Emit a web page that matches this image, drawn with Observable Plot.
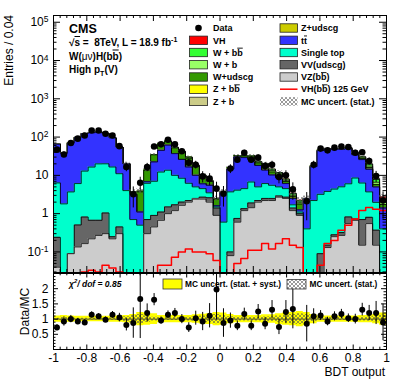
<!DOCTYPE html>
<html>
<head>
<meta charset="utf-8">
<script src="https://cdn.jsdelivr.net/npm/d3@7"></script>
<script src="https://cdn.jsdelivr.net/npm/@observablehq/plot@0.6"></script>
<style>
  html, body { margin: 0; padding: 0; background: #fff; }
  #chart { position: relative; width: 407px; height: 391px; overflow: hidden; }
  #chart svg { position: absolute; left: 0; }
</style>
</head>
<body>
<div id="chart"></div>
<script>
// ---------------- data ----------------
const xMin = -1, xMax = 1, nBins = 48;

const data = [47, 35, 70, 91, 110, 148, 148, 122, 110, 58, 16.5, 3.2,
  6.4, 16.5, 57, 64.5, 85, 64.5, 42.6, 21.5, 19, 9.4, 8.2, 4.5,
  3.3, 15, 25.6, 39, 25.6, 29, 17.5, 19, 9, 10, 4.3, 0,
  2.1, 19, 50, 45, 53, 57, 55, 39, 40, 23.6, 9.6, 2.2];

const vzbb = [0.04, 0, 0.09, 0.135, 0.165, 0.22, 0.27, 0.3, 0.22, 0.3, 0, 0,
  0, 0.3, 0.45, 0.67, 1.0, 1.2, 1.65, 2.0, 2.4, 2.4, 2.0, 0.9,
  0, 0.08, 0.6, 1.2, 1.43, 2.0, 2.2, 2.2, 2.7, 2.5, 1.2, 0.9,
  0, 0, 0, 0.13, 0.25, 0.27, 0.55, 0.67, 0.15, 0.55, 0.15, 0];
const vvudscg = [0.2, 0, 0, 0.37, 0.65, 0.45, 0.4, 0.74, 0.03, 0.15, 0, 0,
  0, 0.4, 0.45, 0.43, 0.5, 0.5, 0.35, 0.2, 0.1, 0.3, 0.6, 0.5,
  0, 0.02, 0.15, 0.15, 0.47, 0.2, 0.3, 0.3, 0.2, 0.2, 0.2, 0.1,
  0, 0, 0.09, 0.02, 0.03, 0.05, 0.27, 0.05, 0.55, 0.25, 0.22, 0];
const singleTop = [6.1, 1.8, 3.6, 5.6, 12.1, 15.8, 19.3, 19.0, 16.3, 10.6, 4.0, 0.7,
  0.5, 5.5, 6.1, 11.1, 12.1, 8.3, 6.4, 4.0, 2.5, 1.8, 0.9, 0.1,
  0.6, 3.6, 3.35, 3.15, 4.8, 2.8, 3.6, 3.0, 2.1, 1.8, 0.3, 0.1,
  0.4, 2.2, 3.1, 3.65, 4.1, 4.7, 5.2, 7.8, 5.6, 2.9, 1.6, 0.4];
const ttbar = [58.6, 35.7, 65.8, 91.8, 110.9, 113.3, 115.8, 103.6, 79.2, 43.6, 15.8, 2.5,
  0.6, 0.6, 15.4, 32.8, 48, 27, 17.6, 10.3, 5, 1.5, 2.0, 0.1,
  3.0, 10.9, 26.3, 24.6, 18.7, 13.1, 7.6, 4.7, 3.6, 1.6, 0.8, 0.15,
  2.0, 14.9, 41.3, 44.6, 43.8, 43, 44, 26, 19.5, 10.7, 3.0, 1.0];
const zudscg = [0, 0, 0, 0, 0.02, 0.02, 0.02, 0.02, 0.02, 0.02, 0, 0,
  0.02, 0.05, 0.05, 0.05, 0.05, 0.05, 0.05, 0.05, 0.05, 0.03, 0.02, 0.01,
  0, 0.02, 0.03, 0.03, 0.03, 0.03, 0.03, 0.02, 0.02, 0.02, 0.01, 0.01,
  0, 0.01, 0.02, 0.02, 0.02, 0.02, 0.02, 0.02, 0.02, 0.02, 0.01, 0.01];
const zb = [0, 0, 0, 0, 0, 0, 0, 0, 0, 0, 0, 0,
  0, 0.01, 0.02, 0.02, 0.02, 0.02, 0.02, 0.02, 0.02, 0.01, 0.01, 0,
  0, 0.01, 0.01, 0.01, 0.02, 0.02, 0.02, 0.02, 0.02, 0.01, 0.01, 0.01,
  0, 0, 0.01, 0.01, 0.01, 0.01, 0.01, 0.01, 0.02, 0.02, 0.01, 0.01];
const zbb = [0, 0, 0, 0, 0, 0, 0, 0, 0, 0, 0, 0,
  0, 0.01, 0.01, 0.01, 0.01, 0.01, 0.01, 0.02, 0.02, 0.01, 0.01, 0,
  0, 0, 0.01, 0.01, 0.02, 0.02, 0.02, 0.02, 0.02, 0.02, 0.01, 0.01,
  0, 0, 0.01, 0.01, 0.01, 0.01, 0.02, 0.02, 0.03, 0.03, 0.02, 0.01];
const wudscg = [0.1, 0.05, 0.1, 0.1, 0.2, 0.2, 0.2, 0.3, 0.3, 0.4, 0.6, 0.5,
  2.6, 6.7, 12, 21.5, 16, 15, 14, 11.5, 7, 3.4, 1.4, 0.8,
  0.2, 1.0, 2.0, 3.0, 5, 3, 4, 2, 1.6, 0.8, 0.3, 0.5,
  0.1, 0.3, 0.5, 0.6, 0.8, 1.0, 2.0, 2.0, 1.5, 1.5, 0.8, 0.3];
const wb = [0, 0, 0, 0, 0, 0, 0, 0, 0, 0, 0.05, 0.05,
  0.1, 0.2, 0.4, 1.0, 1.0, 1.3, 1.5, 1.2, 0.8, 0.4, 0.25, 0.05,
  0, 0.1, 0.3, 0.5, 1.5, 1.0, 1.5, 1.2, 0.8, 0.5, 0.2, 0.15,
  0, 0.05, 0.1, 0.1, 0.15, 0.2, 0.6, 1.2, 1.5, 1.5, 0.8, 0.3];
const wbb = [0, 0, 0, 0, 0, 0, 0, 0, 0, 0, 0.02, 0.02,
  0.05, 0.1, 0.2, 0.5, 0.4, 0.7, 1.0, 0.8, 0.6, 0.3, 0.2, 0.03,
  0, 0.05, 0.2, 0.3, 1.0, 0.8, 1.2, 1.0, 0.8, 0.5, 0.3, 0.2,
  0, 0.05, 0.1, 0.1, 0.15, 0.2, 0.4, 1.2, 1.5, 2.0, 1.2, 0.4];
const vhStack = [0, 0, 0, 0, 0, 0, 0, 0, 0, 0, 0, 0,
  0, 0, 0, 0.01, 0.01, 0.01, 0.02, 0.02, 0.02, 0.02, 0.02, 0.01,
  0, 0, 0.01, 0.01, 0.02, 0.02, 0.03, 0.03, 0.05, 0.06, 0.08, 0.1,
  0, 0, 0.01, 0.03, 0.04, 0.07, 0.1, 0.15, 0.4, 0.5, 0.5, 0.3];
const vhLine = [0, 0, 0, 0, 0.03, 0.033, 0.03, 0.045, 0.038, 0.03, 0, 0,
  0, 0, 0, 0.045, 0.045, 0.073, 0.1, 0.12, 0.1, 0.1, 0.09, 0.06,
  0, 0.02, 0.05, 0.067, 0.11, 0.11, 0.165, 0.12, 0.165, 0.22, 0.15, 0.13,
  0, 0.02, 0.045, 0.165, 0.2, 0.37, 0.5, 0.72, 1.2, 1.45, 1.3, 1.2];

const ratio = [0.72, 0.92, 1.0, 0.92, 0.89, 1.14, 1.09, 0.98, 1.14, 1.05, 0.81, 0.87,
  1.66, 1.2, 1.64, 0.95, 1.14, 1.2, 1.0, 0.72, 1.03, 0.92, 1.11, 1.97,
  0.87, 0.95, 0.78, 1.17, 0.78, 1.25, 0.85, 1.31, 0.74, 1.23, 1.33, null,
  0.85, 1.09, 1.12, 0.92, 1.09, 1.17, 1.03, 1.0, 1.31, 1.2, 1.2, 0.89];
const ratioErr = [0.1, 0.15, 0.12, 0.1, 0.09, 0.1, 0.09, 0.09, 0.11, 0.14, 0.2, 0.5,
  1.3, 0.3, 0.2, 0.12, 0.13, 0.15, 0.15, 0.16, 0.23, 0.3, 0.4, 1.0,
  0.47, 0.25, 0.16, 0.19, 0.16, 0.23, 0.2, 0.3, 0.25, 0.38, 0.65, null,
  0.6, 0.25, 0.16, 0.14, 0.15, 0.15, 0.14, 0.16, 0.21, 0.25, 0.38, 0.6];
const bandSyst = [0.1, 0.12, 0.1, 0.09, 0.09, 0.09, 0.09, 0.09, 0.1, 0.1, 0.12, 0.15,
  0.22, 0.2, 0.18, 0.12, 0.12, 0.12, 0.12, 0.12, 0.14, 0.16, 0.18, 0.22,
  0.2, 0.15, 0.12, 0.12, 0.12, 0.12, 0.14, 0.14, 0.18, 0.2, 0.22, 0.25,
  0.22, 0.15, 0.1, 0.1, 0.1, 0.1, 0.1, 0.1, 0.12, 0.12, 0.15, 0.2];
const bandStat = [0.03, 0.06, 0.04, 0.03, 0.03, 0.03, 0.03, 0.03, 0.04, 0.05, 0.08, 0.12,
  0.15, 0.1, 0.06, 0.05, 0.05, 0.05, 0.05, 0.06, 0.08, 0.1, 0.12, 0.15,
  0.12, 0.08, 0.06, 0.06, 0.06, 0.06, 0.07, 0.08, 0.1, 0.12, 0.15, 0.18,
  0.15, 0.08, 0.05, 0.05, 0.05, 0.05, 0.05, 0.05, 0.06, 0.07, 0.09, 0.13];

const xTickValues = [-1, -0.8, -0.6, -0.4, -0.2, 0, 0.2, 0.4, 0.6, 0.8, 1];
const xTickLabels = ["-1", "-0.8", "-0.6", "-0.4", "-0.2", "0", "0.2", "0.4", "0.6", "0.8", "1"];
const yTickValues = [0.1, 1, 10, 100, 1000, 10000, 100000];
const yTickLabels = ["10^-1", "1", "10", "10^2", "10^3", "10^4", "10^5"];
const rTickValues = [0.5, 1, 1.5, 2];
const rTickLabels = ["0.5", "1", "1.5", "2"];

const stackSeries = [vzbb, vvudscg, singleTop, ttbar, zudscg, zb, zbb, wudscg, wb, wbb, vhStack]; // bottom -> top
const stackColors = ["#cccccc", "#666666", "#00ffcc", "#3333ff", "#cccc00", "#cccc88", "#ffff00", "#339900", "#99ff66", "#33ff33", "#ff0000"];

// ---------------- helpers ----------------
const FONT = "'Liberation Sans', Arial, Helvetica, sans-serif";
const FLOOR = 1e-6;
const binEdges = d3.range(nBins + 1).map(i => xMin + (xMax - xMin) * i / nBins);
const binCenters = d3.range(nBins).map(i => (binEdges[i] + binEdges[i + 1]) / 2);
const xMinor = d3.range(0, 51).map(i => -1 + i * 0.04).filter(v => !xTickValues.some(t => Math.abs(t - v) < 1e-6));

function steps(vals) {
  const p = vals.map((v, i) => ({x: binEdges[i], y: Math.max(v, FLOOR)}));
  p.push({x: binEdges[nBins], y: Math.max(vals[nBins - 1], FLOOR)});
  return p;
}
function bandSteps(half) {
  const p = half.map((h, i) => ({x: binEdges[i], lo: 1 - h, hi: 1 + h}));
  p.push({x: binEdges[nBins], lo: 1 - half[nBins - 1], hi: 1 + half[nBins - 1]});
  return p;
}
function addHatch(svg, id) {
  const defs = d3.select(svg).insert("defs", ":first-child");
  const p = defs.append("pattern").attr("id", id).attr("patternUnits", "userSpaceOnUse")
    .attr("width", 4).attr("height", 4);
  p.append("path").attr("d", "M0,0L4,4M4,0L0,4").attr("stroke", "#555").attr("stroke-width", 0.6).attr("fill", "none");
}
function richText(parent, x, y, str, sizePx, opts = {}) {
  const t = parent.append("text").attr("x", x).attr("y", y).attr("font-size", sizePx + "px")
    .attr("font-family", FONT).attr("font-weight", opts.weight || "bold").attr("fill", "#000")
    .attr("text-anchor", opts.anchor || "start");
  if (opts.italic) t.attr("font-style", "italic");
  if (opts.transform) t.attr("transform", opts.transform);
  const tokens = str.split(/(#bar\{[^}]*\}|\^\{[^}]*\}|_\{[^}]*\}|#n\{[^}]*\})/).filter(s => s !== "");
  let shift = 0;
  for (const tk of tokens) {
    let txt = tk, ns = 0, m;
    const ts = t.append("tspan");
    if ((m = tk.match(/^#bar\{(.*)\}$/))) { txt = m[1]; ts.style("text-decoration", "overline"); }
    else if ((m = tk.match(/^\^\{(.*)\}$/))) { txt = m[1]; ns = -0.42 * sizePx; ts.attr("font-size", (0.7 * sizePx) + "px"); }
    else if ((m = tk.match(/^_\{(.*)\}$/))) { txt = m[1]; ns = 0.3 * sizePx; ts.attr("font-size", (0.7 * sizePx) + "px"); }
    else if ((m = tk.match(/^#n\{(.*)\}$/))) { txt = m[1]; ts.attr("font-weight", "normal"); }
    ts.text(txt);
    if (ns !== shift) { ts.attr("dy", ns - shift); shift = ns; }
  }
  return t;
}

// ---------------- main panel ----------------
let run = new Array(nBins).fill(0);
const cum = stackSeries.map(s => { run = run.map((r, i) => r + s[i]); return run.slice(); });
const mcTotal = cum[cum.length - 1];

const stackMarks = [];
for (let k = cum.length - 1; k >= 0; k--) {
  const pts = steps(cum[k]);
  stackMarks.push(Plot.areaY(pts, {x: "x", y1: FLOOR, y2: "y", curve: "step-after", fill: stackColors[k], clip: true}));
  stackMarks.push(Plot.lineY(pts, {x: "x", y: "y", curve: "step-after", stroke: "#000", strokeWidth: 0.8, clip: true}));
}

const dataPts = d3.range(nBins).filter(i => data[i] > 0)
  .map(i => ({x: binCenters[i], y: data[i], lo: data[i] - Math.sqrt(data[i]), hi: data[i] + Math.sqrt(data[i])}));

const yMinor = [];
for (let e = -2; e <= 5; e++) for (let m = 2; m <= 9; m++) { const v = m * Math.pow(10, e); if (v > 0.029 && v < 1.5e5) yMinor.push(v); }

const mainPlotH = 257, mainPlotW = 333;
const yLabelMap = new Map(yTickValues.map((v, i) => [v, yTickLabels[i]]));

const main = Plot.plot({
  width: 407, height: 273,
  marginTop: 15, marginBottom: 1, marginLeft: 53, marginRight: 21,
  x: {domain: [xMin, xMax], axis: null},
  y: {type: "log", domain: [0.029, 1.5e5], axis: null},
  style: {fontFamily: FONT, fontSize: "12px", background: "transparent", color: "#000"},
  marks: [
    ...stackMarks,
    Plot.rect(d3.range(nBins).filter(i => mcTotal[i] > 0), {
      x1: i => binEdges[i], x2: i => binEdges[i + 1],
      y1: i => mcTotal[i] * (1 - bandStat[i]), y2: i => mcTotal[i] * (1 + bandStat[i]),
      fill: "url(#hatchMain)", clip: true
    }),
    Plot.lineY(steps(vhLine), {x: "x", y: "y", curve: "step-after", stroke: "#ff0000", strokeWidth: 1.5, clip: true}),
    Plot.ruleX(dataPts, {x: "x", y1: "lo", y2: "hi", stroke: "#000", strokeWidth: 1, clip: true}),
    Plot.dot(dataPts, {x: "x", y: "y", r: 3.3, fill: "#000", stroke: null}),
    // ticks
    Plot.ruleX(xTickValues, {insetTop: mainPlotH - 6, stroke: "#000"}),
    Plot.ruleX(xTickValues, {insetBottom: mainPlotH - 6, stroke: "#000"}),
    Plot.ruleX(xMinor, {insetTop: mainPlotH - 3, stroke: "#000"}),
    Plot.ruleX(xMinor, {insetBottom: mainPlotH - 3, stroke: "#000"}),
    Plot.ruleY(yTickValues, {insetRight: mainPlotW - 7, stroke: "#000"}),
    Plot.ruleY(yTickValues, {insetLeft: mainPlotW - 7, stroke: "#000"}),
    Plot.ruleY(yMinor, {insetRight: mainPlotW - 3.5, stroke: "#000"}),
    Plot.ruleY(yMinor, {insetLeft: mainPlotW - 3.5, stroke: "#000"}),
    Plot.axisY({ticks: yTickValues, tickSize: 0, tickPadding: 5, tickFormat: d => yLabelMap.get(d), label: null}),
    Plot.frame({stroke: "#000", strokeWidth: 1})
  ]
});
main.style.top = "0px";
addHatch(main, "hatchMain");

d3.select(main).selectAll('g[aria-label="y-axis tick label"] text').each(function () {
  const parts = this.textContent.split("^");
  if (parts.length === 2) {
    const t = d3.select(this); t.text(null);
    t.append("tspan").text(parts[0]);
    t.append("tspan").attr("dy", "-0.45em").attr("font-size", "8.5px").text(parts[1]);
  }
});

// annotations on main
const gm = d3.select(main).append("g");
richText(gm, 12.5, 15, "Entries / 0.04", 12, {weight: "normal", anchor: "end", transform: "rotate(-90 12.5 15)"});
richText(gm, 69, 33, "CMS", 12.5);
richText(gm, 69, 46, "√#bar{s} =  8TeV, L = 18.9 fb^{-1}", 10);
richText(gm, 69, 59.5, "W(#n{μν})H(b#bar{b})", 10);
richText(gm, 69, 73, "High p_{T}(V)", 10);

// legend
const legendRows = [28, 40.3, 52.5, 64.7, 77, 89.2, 101.4];
const legendLeft = [
  {label: "Data", kind: "data"},
  {label: "VH", color: "#ff0000"},
  {label: "W + b#bar{b}", color: "#33ff33"},
  {label: "W + b", color: "#99ff66"},
  {label: "W+udscg", color: "#339900"},
  {label: "Z + b#bar{b}", color: "#ffff00"},
  {label: "Z + b", color: "#cccc88"}
];
const legendRight = [
  {label: "Z+udscg", color: "#cccc00"},
  {label: "t#bar{t}", color: "#3333ff"},
  {label: "Single top", color: "#00ffcc"},
  {label: "VV(udscg)", color: "#666666"},
  {label: "VZ(b#bar{b})", color: "#cccccc"},
  {label: "VH(b#bar{b}) 125 GeV", kind: "line"},
  {label: "MC uncert. (stat.)", kind: "hatch"}
];
function drawLegendCol(items, bx, bw, tx) {
  items.forEach((it, i) => {
    const cy = legendRows[i];
    if (it.kind === "data") {
      gm.append("circle").attr("cx", bx + bw / 2).attr("cy", cy).attr("r", 3.3).attr("fill", "#000");
    } else if (it.kind === "line") {
      gm.append("line").attr("x1", bx).attr("x2", bx + bw).attr("y1", cy).attr("y2", cy).attr("stroke", "#ff0000").attr("stroke-width", 1.5);
    } else if (it.kind === "hatch") {
      gm.append("rect").attr("x", bx).attr("y", cy - 4.3).attr("width", bw).attr("height", 8.6).attr("fill", "url(#hatchMain)");
    } else {
      gm.append("rect").attr("x", bx).attr("y", cy - 4.2).attr("width", bw).attr("height", 8.4)
        .attr("fill", it.color).attr("stroke", "#222").attr("stroke-width", 0.8);
    }
    richText(gm, tx, cy + 3.2, it.label, 9);
  });
}
drawLegendCol(legendLeft, 189.5, 18, 213);
drawLegendCol(legendRight, 280, 17.5, 301);

// ---------------- ratio panel ----------------
const ratioPts = d3.range(nBins).filter(i => ratio[i] != null)
  .map(i => ({x: binCenters[i], y: ratio[i], lo: ratio[i] - ratioErr[i], hi: ratio[i] + ratioErr[i]}));
const rMinor = d3.range(1, 25).map(i => i / 10).filter(v => !rTickValues.some(t => Math.abs(t - v) < 1e-6));
const ratioPlotH = 76;
const xLabelMap = new Map(xTickValues.map((v, i) => [v, xTickLabels[i]]));
const rLabelMap = new Map(rTickValues.map((v, i) => [v, rTickLabels[i]]));

const ratioPlot = Plot.plot({
  width: 407, height: 119,
  marginTop: 1, marginBottom: 42, marginLeft: 53, marginRight: 21,
  x: {domain: [xMin, xMax], axis: null},
  y: {domain: [0, 2.5], axis: null},
  style: {fontFamily: FONT, fontSize: "12px", background: "transparent", color: "#000"},
  marks: [
    Plot.areaY(bandSteps(bandSyst), {x: "x", y1: "lo", y2: "hi", curve: "step-after", fill: "#ffff00"}),
    Plot.areaY(bandSteps(bandStat), {x: "x", y1: "lo", y2: "hi", curve: "step-after", fill: "url(#hatchRatio)"}),
    Plot.ruleY([1], {stroke: "#333", strokeWidth: 0.8}),
    Plot.ruleX(ratioPts, {x: "x", y1: "lo", y2: "hi", stroke: "#000", strokeWidth: 1, clip: true}),
    Plot.dot(ratioPts, {x: "x", y: "y", r: 3, fill: "#000", stroke: null}),
    Plot.ruleX(xTickValues, {insetTop: ratioPlotH - 4.5, stroke: "#000"}),
    Plot.ruleX(xTickValues, {insetBottom: ratioPlotH - 4.5, stroke: "#000"}),
    Plot.ruleX(xMinor, {insetTop: ratioPlotH - 2.3, stroke: "#000"}),
    Plot.ruleX(xMinor, {insetBottom: ratioPlotH - 2.3, stroke: "#000"}),
    Plot.ruleY(rTickValues, {insetRight: mainPlotW - 5, stroke: "#000"}),
    Plot.ruleY(rTickValues, {insetLeft: mainPlotW - 5, stroke: "#000"}),
    Plot.ruleY(rMinor, {insetRight: mainPlotW - 2.5, stroke: "#000"}),
    Plot.ruleY(rMinor, {insetLeft: mainPlotW - 2.5, stroke: "#000"}),
    Plot.axisX({ticks: xTickValues, tickSize: 0, tickPadding: 3.5, tickFormat: d => xLabelMap.get(d), label: null}),
    Plot.axisY({ticks: rTickValues, tickSize: 0, tickPadding: 5, tickFormat: d => rLabelMap.get(d), label: null}),
    Plot.frame({stroke: "#000", strokeWidth: 1})
  ]
});
ratioPlot.style.top = "272px";
addHatch(ratioPlot, "hatchRatio");

const gr = d3.select(ratioPlot).append("g");
richText(gr, 28.5, 39.5, "Data/MC", 12, {weight: "normal", anchor: "middle", transform: "rotate(-90 28.5 39.5)"});
richText(gr, 385, 103.5, "BDT output", 12, {weight: "normal", anchor: "end"});
richText(gr, 69, 15, "χ^{2}/ dof = 0.85", 8.5, {italic: true});
gr.append("rect").attr("x", 163).attr("y", 7).attr("width", 19).attr("height", 10)
  .attr("fill", "#ffff00").attr("stroke", "#333").attr("stroke-width", 0.8);
richText(gr, 185, 15, "MC uncert. (stat. + syst.)", 8.3);
gr.append("rect").attr("x", 287).attr("y", 7.5).attr("width", 19).attr("height", 9.5)
  .attr("fill", "url(#hatchRatio)").attr("stroke", "#333").attr("stroke-width", 0.8);
richText(gr, 309.5, 15, "MC uncert. (stat.)", 8.3);

const chart = document.getElementById("chart");
chart.appendChild(ratioPlot);
chart.appendChild(main);
</script>
</body>
</html>
